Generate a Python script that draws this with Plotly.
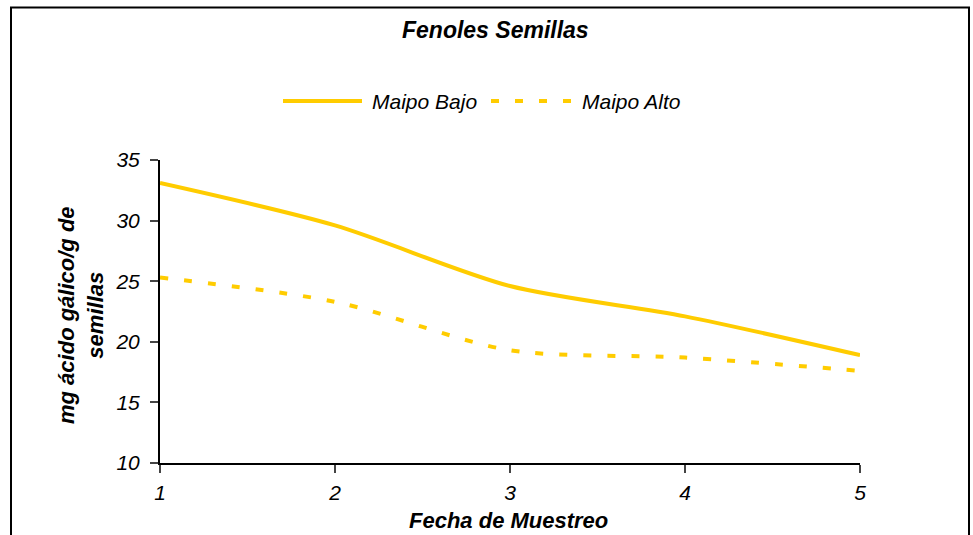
import plotly.graph_objects as go

# Sampling dates and phenol content (mg gallic acid / g seeds)
fechas = [1, 2, 3, 4, 5]
maipo_bajo = [33.1, 29.6, 24.6, 22.1, 18.9]
maipo_alto = [25.3, 23.3, 19.3, 18.7, 17.6]

series_names = ["Maipo Bajo", "Maipo Alto"]
y_ticks = [10, 15, 20, 25, 30, 35]
x_ticks = [1, 2, 3, 4, 5]

GOLD = "#FFCC00"
FONT = "Liberation Sans, Arial, sans-serif"
DASH = "8px,16px"

W, H = 973, 535
L, R, T, B = 160, 113, 160, 72
pw, ph = W - L - R, H - T - B


def px_x(p):
    return (p - L) / pw


def px_y(p):
    return (H - B - p) / ph


fig = go.Figure()
fig.add_trace(go.Scatter(
    x=fechas, y=maipo_bajo, name=series_names[0], mode="lines",
    line=dict(color=GOLD, width=4, shape="spline", smoothing=0.8),
))
fig.add_trace(go.Scatter(
    x=fechas, y=maipo_alto, name=series_names[1], mode="lines",
    line=dict(color=GOLD, width=4, shape="spline", smoothing=0.8, dash=DASH),
))

tick_font = dict(size=21, style="italic", family=FONT)
fig.update_layout(
    width=W, height=H,
    margin=dict(l=L, r=R, t=T, b=B),
    paper_bgcolor="white", plot_bgcolor="white",
    font=dict(family=FONT, color="black"),
    showlegend=False,
    xaxis=dict(
        range=[1, 5], tickvals=x_ticks, ticks="outside", ticklen=8, tickwidth=2,
        showline=True, linecolor="black", linewidth=2, showgrid=False, zeroline=False,
        tickfont=tick_font, ticklabelstandoff=2,
    ),
    yaxis=dict(
        range=[10, 35], tickvals=y_ticks, ticks="outside", ticklen=8, tickwidth=2,
        showline=True, linecolor="black", linewidth=2, showgrid=False, zeroline=False,
        tickfont=tick_font, ticklabelstandoff=6,
    ),
)

# Legend: a line swatch followed by the series name for each trace
legend_items = [
    (series_names[0], "solid", 283, 362, 370),
    (series_names[1], DASH, 491, 571, 580),
]
for name, dash, sx0, sx1, tx in legend_items:
    fig.add_shape(
        type="line", xref="paper", yref="paper",
        x0=px_x(sx0), x1=px_x(sx1), y0=px_y(101), y1=px_y(101),
        line=dict(color=GOLD, width=4, dash=dash),
    )
    fig.add_annotation(
        text=f"<i>{name}</i>", xref="paper", yref="paper",
        x=px_x(tx), y=px_y(101), showarrow=False, xanchor="left", yanchor="middle",
        font=dict(size=21, family=FONT),
    )

# Chart title
fig.add_annotation(
    text="<b><i>Fenoles Semillas</i></b>", xref="paper", yref="paper",
    x=px_x(495), y=px_y(30), showarrow=False, xanchor="center", yanchor="middle",
    font=dict(size=23, family=FONT),
)
# Axis titles
fig.add_annotation(
    text="<b><i>Fecha de Muestreo</i></b>", xref="paper", yref="paper",
    x=px_x(508), y=px_y(520), showarrow=False, xanchor="center", yanchor="middle",
    font=dict(size=22, family=FONT),
)
fig.add_annotation(
    text="<b><i>mg ácido gálico/g de<br>semillas</i></b>", xref="paper", yref="paper",
    x=px_x(81), y=px_y(315), showarrow=False, xanchor="center", yanchor="middle",
    textangle=-90, font=dict(size=22, family=FONT),
)

# Chart-area border
fig.add_shape(
    type="rect", xref="paper", yref="paper",
    x0=px_x(11), x1=px_x(969), y0=px_y(545), y1=px_y(7.5),
    line=dict(color="black", width=2), fillcolor="rgba(0,0,0,0)", layer="below",
)

fig.write_html("out.html")
